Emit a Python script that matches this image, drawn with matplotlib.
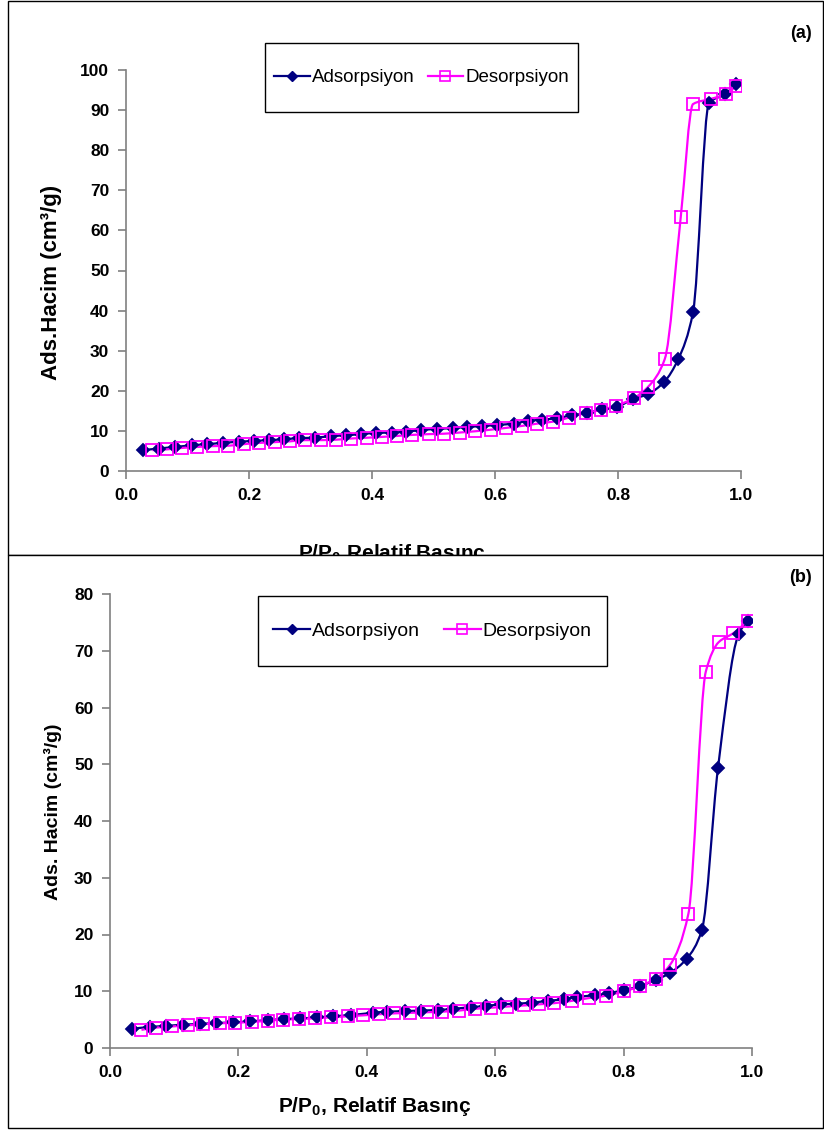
import numpy as np
import matplotlib
matplotlib.use("Agg")
from matplotlib import pyplot as plt
from matplotlib.path import Path
from matplotlib.patches import PathPatch, Rectangle
from matplotlib.lines import Line2D

plt.rcParams['font.family'] = ['Liberation Sans', 'DejaVu Sans']
plt.rcParams['mathtext.fontset'] = 'custom'
plt.rcParams['mathtext.rm'] = 'Liberation Sans'
plt.rcParams['mathtext.bf'] = 'Liberation Sans:bold'

# (a) adsorption / desorption
ads_a_x = [0.027, 0.053, 0.080, 0.107, 0.132, 0.157, 0.183, 0.208, 0.233, 0.257,
           0.281, 0.307, 0.333, 0.357, 0.382, 0.407, 0.433, 0.455, 0.479, 0.505,
           0.531, 0.555, 0.579, 0.604, 0.631, 0.653, 0.677, 0.701, 0.726, 0.750,
           0.774, 0.798, 0.824, 0.849, 0.875, 0.898, 0.922, 0.948, 0.974, 0.992]
ads_a_y = [5.2, 5.6, 6.0, 6.4, 6.7, 7.0, 7.3, 7.5, 7.7, 7.9,
           8.2, 8.3, 8.7, 8.9, 9.2, 9.5, 9.6, 9.8, 10.2, 10.5,
           10.7, 11.0, 11.2, 11.5, 11.8, 12.5, 12.8, 13.2, 13.9, 14.5,
           15.4, 16.0, 17.9, 19.2, 22.2, 27.9, 39.6, 91.8, 94.0, 96.5]
des_a_x = [0.043, 0.067, 0.091, 0.116, 0.141, 0.166, 0.192, 0.216, 0.242, 0.267,
           0.291, 0.317, 0.341, 0.366, 0.392, 0.416, 0.441, 0.465, 0.493, 0.517,
           0.543, 0.567, 0.593, 0.618, 0.644, 0.668, 0.694, 0.720, 0.748, 0.772,
           0.797, 0.826, 0.849, 0.876, 0.902, 0.922, 0.951, 0.976, 0.992]
des_a_y = [5.2, 5.4, 5.75, 6.0, 6.2, 6.3, 6.7, 7.0, 7.2, 7.4,
           7.7, 7.7, 7.8, 8.1, 8.3, 8.5, 8.75, 9.0, 9.2, 9.3,
           9.6, 9.9, 10.3, 10.75, 11.25, 11.8, 12.3, 13.3, 14.5, 15.2,
           16.3, 18.2, 21.0, 27.9, 63.3, 91.5, 92.8, 94.0, 96.0]

# (b) adsorption / desorption
ads_b_x = [0.034, 0.062, 0.088, 0.114, 0.140, 0.165, 0.191, 0.218, 0.246, 0.271,
           0.296, 0.323, 0.348, 0.375, 0.409, 0.431, 0.460, 0.485, 0.511, 0.535,
           0.562, 0.586, 0.609, 0.633, 0.657, 0.682, 0.707, 0.728, 0.755, 0.778,
           0.801, 0.825, 0.850, 0.872, 0.898, 0.922, 0.947, 0.979, 0.993]
ads_b_y = [3.4, 3.7, 3.9, 4.1, 4.25, 4.4, 4.5, 4.7, 4.9, 5.1,
           5.2, 5.4, 5.6, 5.8, 6.2, 6.4, 6.5, 6.6, 6.7, 6.9,
           7.2, 7.4, 7.7, 7.8, 8.0, 8.3, 8.6, 9.0, 9.3, 9.7,
           10.2, 10.9, 12.0, 13.2, 15.7, 20.8, 49.3, 72.9, 75.3]
des_b_x = [0.049, 0.072, 0.097, 0.122, 0.145, 0.171, 0.195, 0.221, 0.246, 0.269,
           0.295, 0.320, 0.345, 0.371, 0.394, 0.419, 0.443, 0.468, 0.494, 0.517,
           0.544, 0.568, 0.594, 0.618, 0.645, 0.669, 0.692, 0.719, 0.746, 0.772,
           0.801, 0.825, 0.850, 0.872, 0.901, 0.928, 0.948, 0.971, 0.994]
des_b_y = [3.2, 3.6, 3.8, 4.0, 4.2, 4.35, 4.45, 4.6, 4.8, 5.0,
           5.1, 5.25, 5.4, 5.6, 5.75, 5.95, 6.1, 6.2, 6.3, 6.4,
           6.6, 6.9, 7.1, 7.3, 7.5, 7.7, 7.9, 8.3, 8.8, 9.2,
           10.0, 10.9, 12.2, 14.6, 23.7, 66.3, 71.5, 73.1, 75.3]

NAVY = '#000080'
MAG = '#FF00FF'
GRAY = '#808080'


def smooth_path(x, y):
    # smoothed line as bezier segments, monotone tangents so it doesn't overshoot
    x = np.asarray(x, float)
    y = np.asarray(y, float)
    h = np.diff(x)
    d = np.diff(y) / h
    n = len(x)
    m = np.zeros(n)
    m[0], m[-1] = d[0], d[-1]
    for k in range(1, n - 1):
        if d[k - 1] * d[k] <= 0:
            m[k] = 0.0
        else:
            w1 = 2 * h[k] + h[k - 1]
            w2 = h[k] + 2 * h[k - 1]
            m[k] = (w1 + w2) / (w1 / d[k - 1] + w2 / d[k])
    verts = [(x[0], y[0])]
    codes = [Path.MOVETO]
    for k in range(n - 1):
        verts += [(x[k] + h[k] / 3, y[k] + m[k] * h[k] / 3),
                  (x[k + 1] - h[k] / 3, y[k + 1] - m[k + 1] * h[k] / 3),
                  (x[k + 1], y[k + 1])]
        codes += [Path.CURVE4] * 3
    return Path(verts, codes)


def draw_series(ax, x, y, color, marker, filled, ms):
    ax.add_patch(PathPatch(smooth_path(x, y), fill=False, edgecolor=color,
                           lw=1.6, zorder=3))
    ax.plot(x, y, ls='none', marker=marker, ms=ms, mec=color,
            mfc=color if filled else 'none', mew=1.3, zorder=4)


def style_axes(ax, ymax, tsize):
    for s in ['top', 'right']:
        ax.spines[s].set_visible(False)
    for s in ['left', 'bottom']:
        ax.spines[s].set_color(GRAY)
        ax.spines[s].set_linewidth(1.2)
    ax.set_xlim(0, 1.0)
    ax.set_ylim(0, ymax)
    ax.set_xticks(np.arange(0, 1.01, 0.2))
    ax.set_xticklabels(['0.0', '0.2', '0.4', '0.6', '0.8', '1.0'])
    ax.set_yticks(np.arange(0, ymax + 1, 10))
    ax.tick_params(axis='both', direction='out', length=6, width=1.2,
                   color=GRAY, labelsize=tsize, pad=6)
    for lab in ax.get_xticklabels() + ax.get_yticklabels():
        lab.set_fontweight('bold')


def make_legend(fig, box, fsize, colsp):
    # box = (left, top, right, bottom) in pixels
    l, t, r, b = box
    fig.add_artist(Rectangle((l / W, 1 - b / H), (r - l) / W, (b - t) / H,
                             transform=fig.transFigure, facecolor='white',
                             edgecolor='black', lw=1.0, zorder=5))
    h = [Line2D([], [], color=NAVY, lw=1.6, marker='D', ms=5, mfc=NAVY, mec=NAVY),
         Line2D([], [], color=MAG, lw=1.6, marker='s', ms=7, mfc='none', mec=MAG, mew=1.2)]
    leg = fig.legend(h, ['Adsorpsiyon', 'Desorpsiyon'], loc='center',
                     bbox_to_anchor=((l + r) / 2 / W, 1 - (t + b) / 2 / H),
                     bbox_transform=fig.transFigure,
                     ncol=2, frameon=False, fontsize=fsize, handlelength=1.9,
                     handletextpad=0.1, columnspacing=colsp, borderpad=0.2)
    leg.set_zorder(6)
    return leg


W, H = 824, 1131
fig = plt.figure(figsize=(W / 100, H / 100), dpi=100)

# chart area frames
fig.add_artist(Rectangle((8 / W, 1 - 555 / H), 815 / W, 554 / H, transform=fig.transFigure,
                         facecolor='white', edgecolor='black', lw=1.0, zorder=-1))
fig.add_artist(Rectangle((8 / W, 1 - 1128 / H), 815 / W, 573 / H, transform=fig.transFigure,
                         facecolor='white', edgecolor='black', lw=1.0, zorder=1))

# panel (a)
ax1 = fig.add_axes([126 / W, 1 - 471 / H, 615 / W, 401 / H], zorder=0)
ax1.set_facecolor('none')
draw_series(ax1, ads_a_x, ads_a_y, NAVY, 'D', True, 6)
draw_series(ax1, des_a_x, des_a_y, MAG, 's', False, 8)
style_axes(ax1, 100, 12.5)
ax1.set_ylabel('Ads.Hacim (cm³/g)', fontsize=16, fontweight='bold')
ax1.yaxis.set_label_coords(-0.104, 0.469)
ax1.set_xlabel(r'P/P$\mathbf{_0}$ Relatif Basınç', fontsize=15, fontweight='bold')
ax1.xaxis.set_label_coords(0.433, -0.178)
make_legend(fig, (265, 43, 578, 112), 13.5, 0.7)
fig.text(812 / W, 1 - 33 / H, '(a)', ha='right', va='center', fontsize=13,
         fontweight='bold')

# panel (b)
ax2 = fig.add_axes([110 / W, 1 - 1048 / H, 642 / W, 454 / H], zorder=2)
ax2.set_facecolor('none')
draw_series(ax2, ads_b_x, ads_b_y, NAVY, 'D', True, 6)
draw_series(ax2, des_b_x, des_b_y, MAG, 's', False, 8)
style_axes(ax2, 80, 12.5)
ax2.set_ylabel('Ads. Hacim (cm³/g)', fontsize=14, fontweight='bold')
ax2.yaxis.set_label_coords(-0.075, 0.52)
ax2.set_xlabel(r'P/P$\mathbf{_0}$, Relatif Basınç', fontsize=15, fontweight='bold')
ax2.xaxis.set_label_coords(0.413, -0.104)
make_legend(fig, (258, 596, 607, 666), 14, 1.2)
fig.text(812 / W, 1 - 578 / H, '(b)', ha='right', va='center', fontsize=13,
         fontweight='bold', zorder=3)

fig.savefig('out.png', dpi=100)
